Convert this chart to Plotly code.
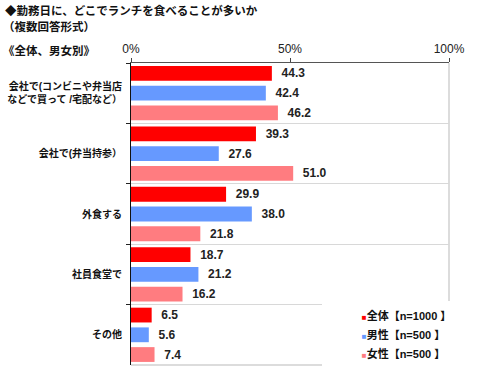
import plotly.graph_objects as go

categories = ["会社で(コンビニや弁当店<br>などで買って /宅配など）", "会社で(弁当持参）", "外食する", "社員食堂で", "その他"]
series_names = ["全体【n=1000 】", "男性【n=500 】", "女性【n=500 】"]
total = [44.3, 39.3, 29.9, 18.7, 6.5]
male = [42.4, 27.6, 38.0, 21.2, 5.6]
female = [46.2, 51.0, 21.8, 16.2, 7.4]
x_ticks = [0, 50, 100]
x_tick_labels = ["0%", "50%", "100%"]

colors = ["#FF0000", "#6699FF", "#FF7C80"]
FONT = "Liberation Sans, Arial, Noto Sans CJK JP, sans-serif"

fig = go.Figure()
for name, vals, col in zip(series_names, [total, male, female], colors):
    fig.add_trace(go.Bar(
        y=categories, x=vals, name=name, orientation="h",
        marker=dict(color=col, line=dict(width=0)),
        text=["  " + f"{v:.1f}" for v in vals],
        textposition="outside", cliponaxis=False,
        textfont=dict(family=FONT, size=12, color="#222222", weight="bold"),
        showlegend=False,
    ))
# legend entries: small coloured square drawn as part of the label
for name, col in zip(series_names, colors):
    fig.add_trace(go.Scatter(
        x=[None], y=[None], mode="markers",
        name=f'<span style="color:{col};font-size:8px">■</span>{name}',
        marker=dict(symbol="square", size=1, color="rgba(0,0,0,0)"),
        showlegend=True,
    ))

fig.update_layout(
    width=500, height=377,
    margin=dict(l=131, r=51, t=63, b=9),
    paper_bgcolor="white", plot_bgcolor="white",
    barmode="group", bargap=0.02, bargroupgap=0.25,
    font=dict(family=FONT, color="#111111"),
    showlegend=True,
    legend=dict(
        x=0.60, y=-0.01, xanchor="left", yanchor="bottom",
        bgcolor="white", borderwidth=0,
        font=dict(family=FONT, size=11, color="#111111", weight="bold"),
        itemwidth=30, tracegroupgap=0,
        traceorder="normal",
    ),
    xaxis=dict(
        side="top", range=[0, 100], tickvals=x_ticks, ticktext=x_tick_labels,
        ticks="outside", ticklen=4, tickcolor="#444444",
        showline=True, linecolor="#555555", linewidth=1, mirror=False,
        showgrid=False, zeroline=False, automargin=False,
        tickfont=dict(family=FONT, size=12, color="#222222"),
    ),
    yaxis=dict(
        autorange="reversed", type="category",
        tickson="boundaries", ticks="outside", ticklen=4, tickcolor="#222222",
        showline=True, linecolor="#111111", linewidth=1,
        showgrid=True, gridcolor="#D8D8D8", gridwidth=1,
        tickfont=dict(family=FONT, size=10, color="#111111", weight="bold"),
        ticklabelstandoff=6, automargin=False,
    ),
)

def ann(text, px, py, size=12, bold=True):
    fig.add_annotation(
        text=(f"<b>{text}</b>" if bold else text),
        x=(px - 131) / 318, y=(368 - py) / 305,
        xref="paper", yref="paper", xanchor="left", yanchor="middle",
        showarrow=False, font=dict(family=FONT, size=size, color="#111111"),
    )
ann("◆勤務日に、どこでランチを食べることが多いか", 3, 10, 11.5)
ann("（複数回答形式）", 1, 26, 11.5)
ann("《全体、男女別》", 1, 50, 11.5)

# right and bottom light frame
fig.add_shape(type="line", xref="paper", yref="paper", x0=1, x1=1, y0=0, y1=1,
              line=dict(color="#D0D0D0", width=1.5), layer="below")
fig.add_shape(type="line", xref="paper", yref="paper", x0=0, x1=1, y0=0, y1=0,
              line=dict(color="#D0D0D0", width=1.5), layer="below")

fig.write_html("out.html", config={"displayModeBar": False},
               post_script="document.body.style.margin='0';document.body.style.padding='0';")
